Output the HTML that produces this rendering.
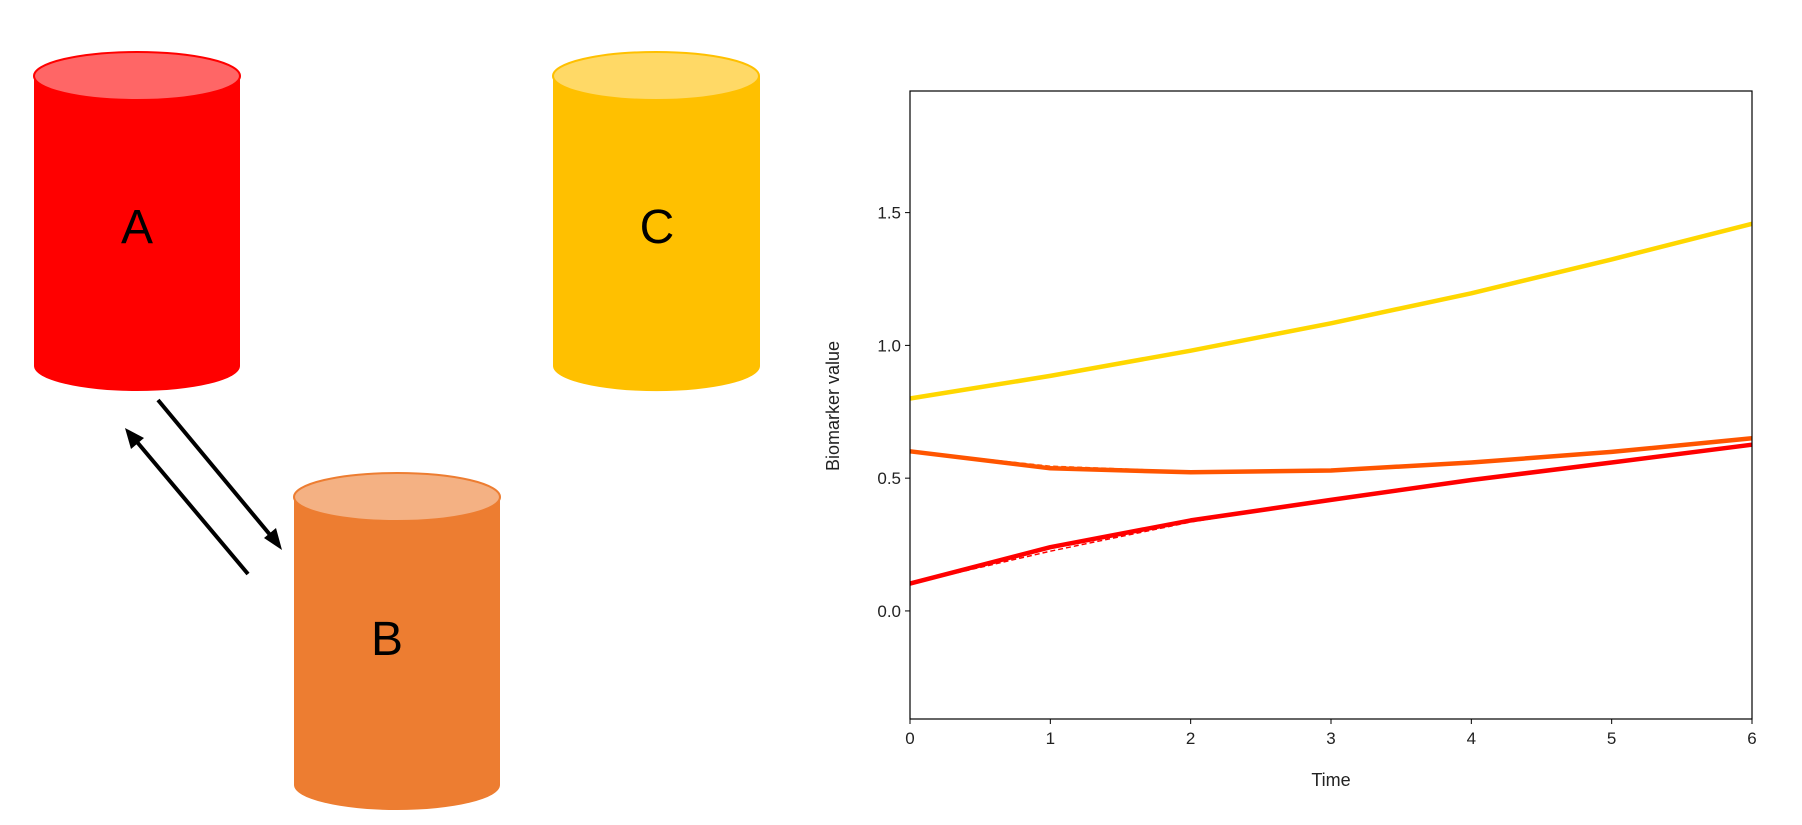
<!DOCTYPE html>
<html><head><meta charset="utf-8"><style>
html,body{margin:0;padding:0;background:#fff;width:1802px;height:825px;overflow:hidden}
svg text{font-family:"Liberation Sans","DejaVu Sans",sans-serif}
</style></head><body>
<svg width="1802" height="825" viewBox="0 0 1802 825">
<defs>
<marker id="ah" markerWidth="10" markerHeight="10" refX="8" refY="5" orient="auto" markerUnits="userSpaceOnUse"><path d="M0,0 L10,5 L0,10 L3,5 Z" fill="#000" transform="scale(1.8) translate(-4.5,-2.2)"/></marker>
</defs>
<g>
<path d="M34,76 L34,366 A103,25 0 0 0 240,366 L240,76 Z" fill="#FF0000"/>
<ellipse cx="137" cy="76" rx="103" ry="24" fill="#FF6666" stroke="#FF0000" stroke-width="2"/>
<text x="137" y="243" font-size="48" text-anchor="middle" fill="#000">A</text>
</g>
<g>
<path d="M553,76 L553,366 A103,25 0 0 0 760,366 L760,76 Z" fill="#FFC000"/>
<ellipse cx="656" cy="76" rx="103" ry="24" fill="#FFD966" stroke="#FFC000" stroke-width="2"/>
<text x="657" y="243" font-size="48" text-anchor="middle" fill="#000">C</text>
</g>
<g>
<path d="M294,497 L294,785 A103,25 0 0 0 500,785 L500,497 Z" fill="#ED7D31"/>
<ellipse cx="397" cy="497" rx="103" ry="24" fill="#F4B183" stroke="#ED7D31" stroke-width="2"/>
<text x="387" y="655" font-size="48" text-anchor="middle" fill="#000">B</text>
</g>
<line x1="158" y1="400" x2="276" y2="542" stroke="#000" stroke-width="4"/>
<polygon points="282,550 264,538 276,528" fill="#000"/>
<line x1="248" y1="574" x2="132" y2="436" stroke="#000" stroke-width="4"/>
<polygon points="125,428 144,438 131,449" fill="#000"/>
<g id="chart"></g>
</svg>
<script>
const times=[0,1,2,3,4,5,6];
const seriesC=[0.80,0.885,0.98,1.083,1.196,1.324,1.458];
const seriesB=[0.601,0.537,0.522,0.529,0.559,0.599,0.650];
const seriesA=[0.103,0.24,0.341,0.418,0.493,0.559,0.626];
const seriesBdash=[0.601,0.545,0.525,0.532,0.559,0.599,0.650];
const seriesAdash=[0.103,0.225,0.335,0.418,0.493,0.559,0.626];
const xTicks=[0,1,2,3,4,5,6];
const yTicks=[0.0,0.5,1.0,1.5];
const yTickLabels=["0.0","0.5","1.0","1.5"];
const X0=910,X1=1752,Y0=91,Y1=719,xmin=0,xmax=6,ymin=-0.407,ymax=1.958;
const sx=v=>X0+(v-xmin)/(xmax-xmin)*(X1-X0);
const sy=v=>Y1-(v-ymin)/(ymax-ymin)*(Y1-Y0);
const NS="http://www.w3.org/2000/svg";
const g=document.getElementById('chart');
function mk(t,a){const e=document.createElementNS(NS,t);for(const k in a)e.setAttribute(k,a[k]);g.appendChild(e);return e;}
function line(vals,color,w,dash,name){
  let d='';
  vals.forEach((v,i)=>{d+=(i?'L':'M')+sx(times[i]).toFixed(1)+','+sy(v).toFixed(1);});
  const p=mk('path',{d:d,fill:'none',stroke:color,'stroke-width':w,'stroke-linejoin':'round'});
  if(dash)p.setAttribute('stroke-dasharray',dash);
  
  
}
line(seriesC,'#FFD700',4.5,null,'series-c-line');
line(seriesBdash,'#FF5500',1.5,'5,3','series-b-dashed');
line(seriesAdash,'#FF0000',1.5,'5,3','series-a-dashed');
line(seriesA,'#FF0000',4.5,null,'series-a-line');
line(seriesB,'#FF5500',4.5,null,'series-b-line');
const fr=mk('rect',{x:X0,y:Y0,width:X1-X0,height:Y1-Y0,fill:'none',stroke:'#000','stroke-width':1.2});


xTicks.forEach(t=>{
  const l=mk('line',{x1:sx(t),x2:sx(t),y1:Y1,y2:Y1+5,stroke:'#000','stroke-width':1});
  
  
  const tx=mk('text',{x:sx(t),y:Y1+25,'font-size':17,'text-anchor':'middle',fill:'#222'});
  tx.textContent=String(t);
  
  
});
yTicks.forEach((t,i)=>{
  const l=mk('line',{x1:X0-5,x2:X0,y1:sy(t),y2:sy(t),stroke:'#000','stroke-width':1});
  
  
  const tx=mk('text',{x:X0-9,y:sy(t)+6,'font-size':17,'text-anchor':'end',fill:'#222'});
  tx.textContent=yTickLabels[i];
  
  
});
const xt=mk('text',{x:(X0+X1)/2,y:786,'font-size':18,'text-anchor':'middle',fill:'#222'});
xt.textContent='Time';


const yt=mk('text',{x:0,y:0,'font-size':18,'text-anchor':'middle',fill:'#222',transform:'translate(839,406) rotate(-90)'});
yt.textContent='Biomarker value';


</script>
</body></html>
